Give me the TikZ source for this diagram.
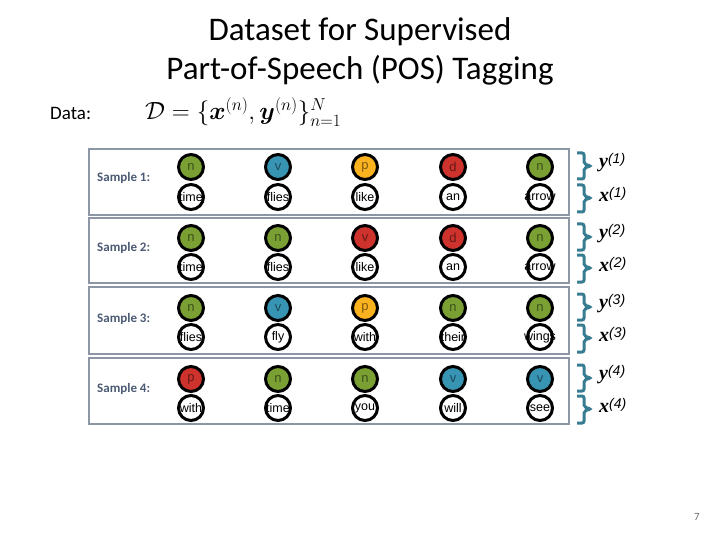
\documentclass[tikz,border=0pt]{standalone}
\usepackage{amsmath,bm}
\usepackage{fontspec}
\setmainfont{Carlito}
\newfontfamily\arialf{Liberation Sans}
\newfontfamily\timesf{Liberation Serif}
\definecolor{tagn}{RGB}{122,160,52}
\definecolor{tagv}{RGB}{55,148,178}
\definecolor{tagp}{RGB}{250,178,30}
\definecolor{tagd}{RGB}{205,50,45}
\definecolor{boxgray}{RGB}{140,150,165}
\definecolor{labelc}{RGB}{75,90,115}
\definecolor{bracec}{RGB}{55,125,145}
\definecolor{pagec}{RGB}{110,110,110}
\tikzset{
  tagnode/.style={circle, draw=black, line width=3pt, minimum size=25pt, inner sep=0pt,
    font=\arialf\fontsize{13}{13}\selectfont, text=black, text opacity=0.5},
  wordbg/.style={circle, fill=white, minimum size=25pt, inner sep=0pt},
  wordtext/.style={inner sep=0pt, font=\arialf\fontsize{12.5}{12.5}\selectfont},
  wordring/.style={draw=black, line width=3pt},
  samplebox/.style={draw=boxgray, line width=1.2pt},
  samplelabel/.style={anchor=west, inner sep=0pt, text=labelc, font=\bfseries\fontsize{13}{13}\selectfont},
  bracepath/.style={draw=bracec, line width=3pt, rounded corners=2pt},
  varlabel/.style={anchor=west, inner sep=0pt},
}
\newcommand{\vlab}[2]{{\timesf\fontsize{20}{20}\selectfont\bfseries\itshape #1}\textsuperscript{\arialf\itshape\fontsize{14}{14}\selectfont(#2)}}
\begin{document}
\begin{tikzpicture}[x=1pt,y=-1pt]
\useasboundingbox (0,0) rectangle (720,540);

% title
\node[font=\fontsize{33}{33}\selectfont] (t1) at (360,32) {Dataset for Supervised};
\node[font=\fontsize{33}{33}\selectfont] (t2) at (360,70) {Part-of-Speech (POS) Tagging};
\node[anchor=west, inner sep=0pt, font=\fontsize{19}{19}\selectfont] (data) at (50,113) {Data:};
\node[anchor=west, inner sep=0pt, font=\fontsize{23}{23}\selectfont] (formula) at (145,112)
  {$\mathcal{D} = \{\bm{x}^{(n)}, \bm{y}^{(n)}\}_{n=1}^{N}$};

% sample boxes
\draw[samplebox] (89,149) rectangle (569,215);
\draw[samplebox] (89,218) rectangle (569,283);
\draw[samplebox] (89,287) rectangle (569,354);
\draw[samplebox] (89,358) rectangle (569,424);

% sample labels
\node[samplelabel] (s1) at (97,178) {Sample 1:};
\node[samplelabel] (s2) at (97,248) {Sample 2:};
\node[samplelabel] (s3) at (97,319) {Sample 3:};
\node[samplelabel] (s4) at (97,389) {Sample 4:};

% nodes: sample index / tag y / word y / list of x/color/tag/word
\foreach \s/\ty/\wy/\items in {
  1/167/197/{191/tagn/n/time, 278/tagv/v/flies, 365/tagp/p/like, 453/tagd/d/an, 540/tagn/n/arrow},
  2/238/267/{191/tagn/n/time, 278/tagn/n/flies, 365/tagd/v/like, 453/tagd/d/an, 540/tagn/n/arrow},
  3/308/337/{191/tagn/n/flies, 278/tagv/v/fly, 365/tagp/p/with, 453/tagn/n/their, 540/tagn/n/wings},
  4/379/408/{191/tagd/p/with, 278/tagn/n/time, 365/tagn/n/you, 453/tagv/v/will, 540/tagv/v/see}}{
  \foreach \x/\c/\t/\w [count=\k] in \items {
    \node[tagnode, fill=\c] (y\s\k) at (\x,\ty) {\t};
    \node[wordbg] (x\s\k) at (\x,\wy) {};
    \node[wordtext] (xt\s\k) at (x\s\k.center) {\w};
    \draw[wordring] (x\s\k.center) circle (12.5pt);
  }
  % braces
  \draw[bracepath] (577,\ty-14) -- (584,\ty-14) -- (584,\ty-3) -- (591,\ty-1) -- (584,\ty+1) -- (584,\ty+12) -- (577,\ty+12);
  \draw[bracepath] (577,\wy-12) -- (584,\wy-12) -- (584,\wy-1) -- (591,\wy+1) -- (584,\wy+3) -- (584,\wy+15) -- (577,\wy+15);
  \node[varlabel] (ly\s) at (599,\ty-4) {\vlab{y}{\s}};
  \node[varlabel] (lx\s) at (599,\wy-3) {\vlab{x}{\s}};
}

\node[text=pagec, font=\fontsize{11}{11}\selectfont] (page) at (697,517) {7};
\end{tikzpicture}
\end{document}
